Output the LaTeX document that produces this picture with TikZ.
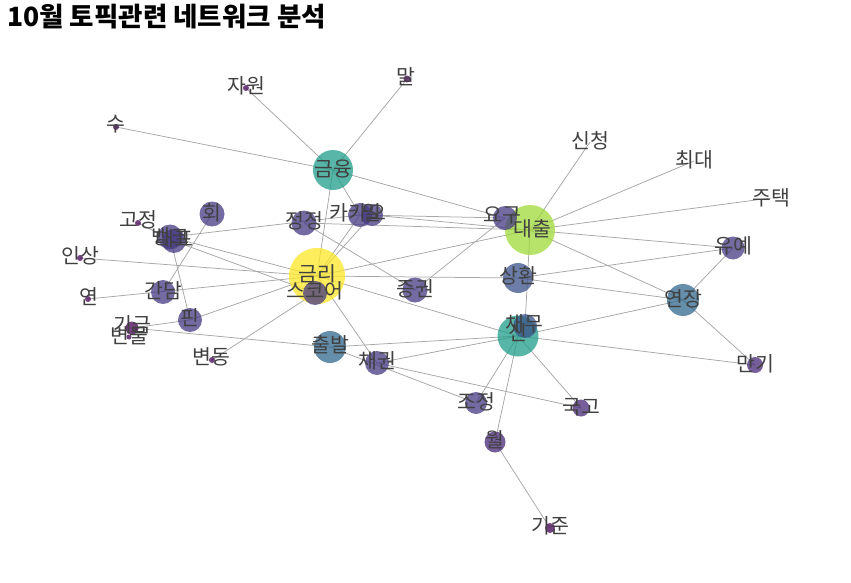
\documentclass[tikz,border=0pt]{standalone}
\usepackage{fontspec}
\setmainfont{Noto Sans CJK KR}
\usetikzlibrary{backgrounds}

% Cores (paleta viridis)
\definecolor{vAmar}{HTML}{FDE725}
\definecolor{vVerde}{HTML}{A0DA39}
\definecolor{vTeal}{HTML}{1F9E89}
\definecolor{vAzul}{HTML}{31688E}
\definecolor{vAzulEsc}{HTML}{3B528B}
\definecolor{vRoxo}{HTML}{443983}
\definecolor{vRoxoEsc}{HTML}{482878}
\definecolor{vViol}{HTML}{440154}

\begin{document}
\begin{tikzpicture}[
        x=1pt, y=-1pt, % coordenadas em pixels da imagem
        bolha/.style 2 args={circle, fill=#1, fill opacity=0.75, draw=none, minimum size=#2, inner sep=0pt},
        rotulo/.style={text=black!75, font=\fontsize{20.5}{21}\selectfont, inner sep=0pt},
        aresta/.style={draw=gray!70, line width=0.75pt}
        ]
        \useasboundingbox (0,0) rectangle (851,583);

        % Titulo
        \node[anchor=west, inner sep=0pt, font=\fontsize{26.5}{27}\bfseries\selectfont] (titulo) at (7,17) {10월 토픽관련 네트워크 분석};

        % Nos principais
        \node[bolha={vAmar}{56}] (geumri) at (317,276) {};
        \node[bolha={vVerde}{50}] (daechul) at (530,230) {};
        \node[bolha={vTeal}{40}] (geumyung) at (333,170) {};
        \node[bolha={vTeal}{41}] (sin) at (518,336) {};
        \node[bolha={vAzulEsc}{24}] (chaemu) at (525,326) {};
        \node[bolha={vAzul}{32}] (yeonjang) at (683,300) {};
        \node[bolha={vAzul}{32}] (chulbal) at (330,347) {};
        \node[bolha={vAzulEsc}{30}] (sanghwan) at (518,278) {};

        % Nos medios
        \node[bolha={vRoxo}{24}] (yogu) at (505,218) {};
        \node[bolha={vRoxo}{24}] (kakao) at (360,215) {};
        \node[bolha={vRoxo}{22}] (il) at (372,215) {};
        \node[bolha={vRoxo}{25}] (jeongjeong) at (304,223) {};
        \node[bolha={vRoxo}{24}] (seukoeo) at (315,293) {};
        \node[bolha={vRoxo}{25}] (baengkeu) at (170,237) {};
        \node[bolha={vRoxo}{24}] (daepyo) at (174,241) {};
        \node[bolha={vRoxo}{25}] (hoe) at (212,214) {};
        \node[bolha={vRoxo}{24}] (gandam) at (163,292) {};
        \node[bolha={vRoxo}{24}] (pin) at (190,320) {};
        \node[bolha={vRoxo}{25}] (jeunggwon) at (415,290) {};
        \node[bolha={vRoxo}{24}] (chaegwon) at (377,363) {};
        \node[bolha={vRoxo}{22}] (jojeong) at (476,403) {};
        \node[bolha={vRoxoEsc}{21}] (wol) at (495,442) {};
        \node[bolha={vRoxoEsc}{17}] (gukgo) at (581,408) {};
        \node[bolha={vRoxoEsc}{16}] (mangi) at (755,365) {};
        \node[bolha={vRoxo}{23}] (yuye) at (733,248) {};
        \node[bolha={vViol}{13}] (gigeum) at (132,328) {};

        % Nos pequenos
        \node[bolha={vViol}{10}] (gijun) at (550,528) {};
        \node[bolha={vViol}{6}] (jawon) at (246,88) {};
        \node[bolha={vViol}{7}] (mal) at (407,79) {};
        \node[bolha={vViol}{6}] (su) at (116,127) {};
        \node[bolha={vViol}{6}] (gojeong) at (138,223) {};
        \node[bolha={vViol}{6}] (insang) at (80,258) {};
        \node[bolha={vViol}{6}] (yeon) at (88,299) {};
        \node[bolha={vViol}{5}] (byeonmul) at (129,337) {};
        \node[bolha={vViol}{6}] (byeondong) at (212,360) {};
        \coordinate (sincheong) at (590,142);
        \coordinate (choedae) at (694,161);
        \coordinate (jutaek) at (771,198);

        % Arestas (atras dos nos)
        \begin{pgfonlayer}{background}
        \draw[aresta] (geumyung.center) -- (su.center);
        \draw[aresta] (geumyung.center) -- (jawon.center);
        \draw[aresta] (geumyung.center) -- (mal.center);
        \draw[aresta] (geumyung.center) -- (yogu.center);
        \draw[aresta] (geumyung.center) -- (geumri.center);
        \draw[aresta] (geumyung.center) -- (kakao.center);

        \draw[aresta] (daechul.center) -- (sincheong);
        \draw[aresta] (daechul.center) -- (choedae);
        \draw[aresta] (daechul.center) -- (jutaek);
        \draw[aresta] (daechul.center) -- (yuye.center);
        \draw[aresta] (daechul.center) -- (yeonjang.center);
        \draw[aresta] (daechul.center) -- (chaemu.center);
        \draw[aresta] (daechul.center) -- (geumri.center);
        \draw[aresta] (daechul.center) -- (jeongjeong.center);
        \draw[aresta] (daechul.center) -- (il.center);
        \draw[aresta] (yogu.center) -- (kakao.center);
        \draw[aresta] (yogu.center) -- (jeunggwon.center);

        \draw[aresta] (baengkeu.center) -- (kakao.center);
        \draw[aresta] (baengkeu.center) -- (geumri.center);
        \draw[aresta] (daepyo.center) -- (seukoeo.center);
        \draw[aresta] (baengkeu.center) -- (pin.center);
        \draw[aresta] (gojeong.center) -- (daepyo.center);
        \draw[aresta] (hoe.center) -- (gandam.center);
        \draw[aresta] (insang.center) -- (geumri.center);
        \draw[aresta] (yeon.center) -- (geumri.center);
        \draw[aresta] (pin.center) -- (geumri.center);
        \draw[aresta] (gigeum.center) -- (pin.center);
        \draw[aresta] (gigeum.center) -- (chulbal.center);
        \draw[aresta] (byeondong.center) -- (seukoeo.center);
        \draw[aresta] (kakao.center) -- (geumri.center);
        \draw[aresta] (il.center) -- (geumri.center);
        \draw[aresta] (jeongjeong.center) -- (jeunggwon.center);

        \draw[aresta] (geumri.center) -- (chaegwon.center);
        \draw[aresta] (geumri.center) -- (sin.center);
        \draw[aresta] (geumri.center) -- (sanghwan.center);
        \draw[aresta] (sanghwan.center) -- (yuye.center);
        \draw[aresta] (sanghwan.center) -- (yeonjang.center);
        \draw[aresta] (chulbal.center) -- (sin.center);
        \draw[aresta] (chulbal.center) -- (jojeong.center);
        \draw[aresta] (chaegwon.center) -- (sin.center);
        \draw[aresta] (chaegwon.center) -- (gukgo.center);

        \draw[aresta] (sin.center) -- (jojeong.center);
        \draw[aresta] (sin.center) -- (wol.center);
        \draw[aresta] (sin.center) -- (gukgo.center);
        \draw[aresta] (sin.center) -- (mangi.center);
        \draw[aresta] (sin.center) -- (yeonjang.center);
        \draw[aresta] (wol.center) -- (gijun.center);
        \draw[aresta] (yeonjang.center) -- (yuye.center);
        \draw[aresta] (yeonjang.center) -- (mangi.center);
        \end{pgfonlayer}

        % Rotulos (por cima de tudo)
        \node[rotulo] (l-geumri) at (317,274) {금리};
        \node[rotulo] (l-daechul) at (532,229) {대출};
        \node[rotulo] (l-geumyung) at (333,169) {금융};
        \node[rotulo] (l-sin) at (518,333) {신};
        \node[rotulo] (l-chaemu) at (524,324) {채무};
        \node[rotulo] (l-yeonjang) at (683,299) {연장};
        \node[rotulo] (l-chulbal) at (330,345) {출발};
        \node[rotulo] (l-sanghwan) at (518,276) {상환};
        \node[rotulo] (l-yogu) at (502,215) {요구};
        \node[rotulo] (l-kakao) at (358,213) {카카오};
        \node[rotulo] (l-il) at (372,213) {일};
        \node[rotulo] (l-jeongjeong) at (304,221) {정정};
        \node[rotulo] (l-seukoeo) at (315,291) {스코어};
        \node[rotulo] (l-baengkeu) at (170,237) {뱅크};
        \node[rotulo] (l-daepyo) at (174,239) {대표};
        \node[rotulo] (l-hoe) at (212,213) {회};
        \node[rotulo] (l-gandam) at (163,291) {간담};
        \node[rotulo] (l-pin) at (190,318) {핀};
        \node[rotulo] (l-jeunggwon) at (415,289) {증권};
        \node[rotulo] (l-chaegwon) at (377,361) {채권};
        \node[rotulo] (l-jojeong) at (476,402) {조정};
        \node[rotulo] (l-wol) at (495,440) {월};
        \node[rotulo] (l-gukgo) at (581,407) {국고};
        \node[rotulo] (l-mangi) at (755,364) {만기};
        \node[rotulo] (l-yuye) at (733,246) {유예};
        \node[rotulo] (l-gigeum) at (132,325) {기금};
        \node[rotulo] (l-gijun) at (550,526) {기준};
        \node[rotulo] (l-jawon) at (246,86) {자원};
        \node[rotulo] (l-mal) at (406,77) {말};
        \node[rotulo] (l-su) at (116,124) {수};
        \node[rotulo] (l-gojeong) at (138,220) {고정};
        \node[rotulo] (l-insang) at (80,256) {인상};
        \node[rotulo] (l-yeon) at (89,297) {연};
        \node[rotulo] (l-byeonmul) at (129,336) {변물};
        \node[rotulo] (l-byeondong) at (211,357) {변동};
        \node[rotulo] (l-sincheong) at (590,141) {신청};
        \node[rotulo] (l-choedae) at (694,160) {최대};
        \node[rotulo] (l-jutaek) at (771,198) {주택};

    \end{tikzpicture}
\end{document}
